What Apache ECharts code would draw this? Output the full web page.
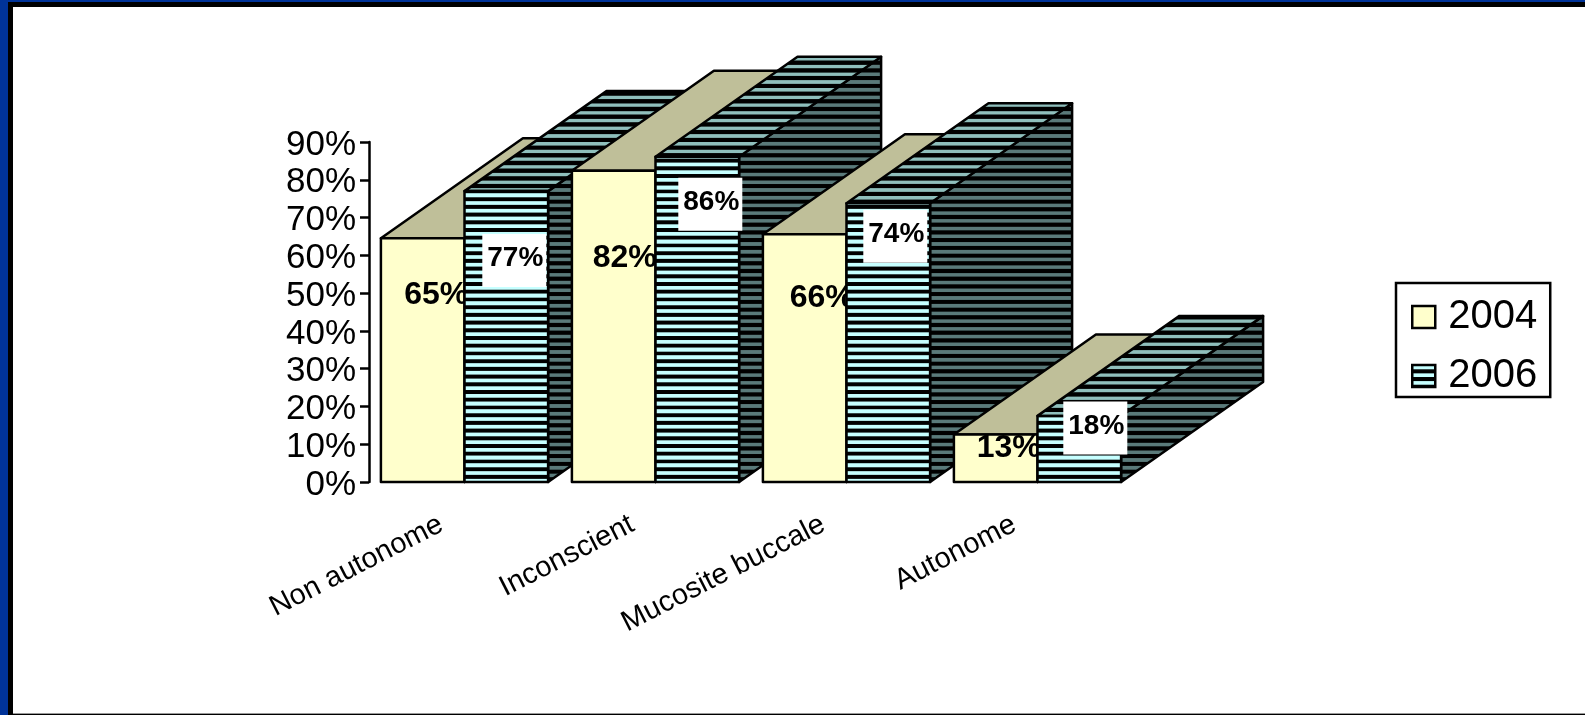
<!DOCTYPE html>
<html>
<head>
<meta charset="utf-8">
<style>html,body{margin:0;padding:0;background:#fff}#c{width:1585px;height:715px}</style>
<script src="https://cdn.jsdelivr.net/npm/echarts@6/dist/echarts.min.js"></script>
</head>
<body>
<div id="c"></div>
<script>
const categories = ['Non autonome', 'Inconscient', 'Mucosite buccale', 'Autonome'];
const seriesNames = ['2004', '2006'];
const values2004 = [64.5, 82.4, 65.6, 12.6];
const values2006 = [77.0, 86.1, 73.8, 17.5];
const yTicks = { min: 0, max: 90, interval: 10 };

const FONT = '"Liberation Sans", Arial, sans-serif';
const DEPTH_X = 142, DEPTH_Y = -100, BAR_RATIO = 83.6 / 191;
// label anchor offsets relative to each bar's top-centre (hand placed in the source chart)
const label2004Offset = [[13.5, 57], [11, 87], [17, 64], [13, 14]];
const label2006Offset = [[8, 69.5], [13, 47.5], [7, 33], [16, 12]];

function stripes(light, shift, band) {
  const period = 54 / 7, cv = document.createElement('canvas');
  cv.width = 8; cv.height = 54;
  const g = cv.getContext('2d');
  g.fillStyle = '#000'; g.fillRect(0, 0, 8, 54);
  g.fillStyle = light;
  for (let k = -1; k < 8; k++) {
    g.fillRect(0, 33.3 + shift - band / 2 + k * period, 8, band);
    g.fillRect(0, 33.3 + shift - band / 2 + k * period - 54, 8, band);
  }
  return { image: cv, repeat: 'repeat' };
}
const hatchFront = stripes('#c6ffff', 0, 3.7);
const hatchTop = stripes('#8fbfbc', 2.4, 3.3);
const hatchSide = stripes('#5a7a7a', 2.4, 3.5);
const FACES = [
  { front: '#ffffcc', top: '#bfbf99', side: '#808066' },
  { front: hatchFront, top: hatchTop, side: hatchSide }
];

function makeRender(sIdx) {
  return function (params, api) {
    const cat = api.value(0), val = api.value(1);
    const base = api.coord([cat, 0]), top = api.coord([cat, val]);
    const w = api.size([1, 0])[0] * BAR_RATIO;
    const x0 = sIdx === 0 ? base[0] - w : base[0], x1 = x0 + w;
    const y0 = base[1], y1 = top[1];
    const f = FACES[sIdx], z = cat * 10 + sIdx * 2;
    const ln = { stroke: '#000', lineWidth: 2.5, lineJoin: 'round' };
    const poly = (pts, fill) => ({ type: 'polygon', z2: z, shape: { points: pts }, style: Object.assign({ fill }, ln) });
    const kids = [
      poly([[x1, y0], [x1 + DEPTH_X, y0 + DEPTH_Y], [x1 + DEPTH_X, y1 + DEPTH_Y], [x1, y1]], f.side),
      poly([[x0, y1], [x1, y1], [x1 + DEPTH_X, y1 + DEPTH_Y], [x0 + DEPTH_X, y1 + DEPTH_Y]], f.top),
      poly([[x0, y0], [x1, y0], [x1, y1], [x0, y1]], f.front)
    ];
    const off = (sIdx === 0 ? label2004Offset : label2006Offset)[cat];
    const lx = (x0 + x1) / 2 + off[0], ly = y1 + off[1];
    if (sIdx === 1) {
      kids.push({ type: 'rect', z2: z + 1, shape: { x: lx - 32, y: ly - 26.5, width: 64, height: 53 }, style: { fill: '#fff' } });
    }
    kids.push({
      type: 'text', z2: sIdx === 0 ? z + 1 : z + 2, x: lx + (sIdx === 1 ? 1 : 0), y: ly - (sIdx === 1 ? 2 : 0),
      style: {
        text: Math.round(val) + '%', fill: '#000', align: 'center', verticalAlign: 'middle',
        font: 'bold ' + (sIdx === 0 ? 32 : 28) + 'px ' + FONT
      }
    });
    return { type: 'group', children: kids };
  };
}

const frameRect = (x, y, width, height, fill) => ({ type: 'rect', silent: true, z: -1, shape: { x, y, width, height }, style: { fill } });

const option = {
  animation: false,
  backgroundColor: '#fff',
  textStyle: { fontFamily: FONT, color: '#000' },
  graphic: [
    frameRect(0, 0, 1585, 2, '#003399'),
    frameRect(0, 0, 8, 715, '#003399'),
    frameRect(8, 2, 1577, 5, '#000'),
    frameRect(8, 2, 5, 713, '#000'),
    frameRect(8, 714, 1577, 1, '#000'),
    frameRect(13, 713, 1572, 1, '#999')
  ],
  grid: { left: 369, top: 142, width: 764, height: 340 },
  xAxis: {
    type: 'category', data: categories,
    axisLine: { show: false }, axisTick: { show: false },
    axisLabel: { interval: 0, rotate: 27, fontSize: 29, color: '#000', margin: 29, padding: [0, 26, 0, 0], fontFamily: FONT }
  },
  yAxis: {
    type: 'value', min: yTicks.min, max: yTicks.max, interval: yTicks.interval,
    splitLine: { show: false },
    axisLine: { show: true, lineStyle: { color: '#000', width: 2.5 } },
    axisTick: { show: true, length: 9, lineStyle: { color: '#000', width: 2.5 } },
    axisLabel: { color: '#000', fontSize: 35, margin: 13, verticalAlign: 'top', lineHeight: 6, fontFamily: FONT, formatter: v => v + '%' }
  },
  legend: {
    orient: 'vertical', left: 1396, top: 283, padding: [14, 13, 1, 15],
    backgroundColor: '#fff', borderColor: '#000', borderWidth: 2.5, borderRadius: 0,
    itemWidth: 23, itemHeight: 22, itemGap: 19, selectedMode: false,
    textStyle: { fontSize: 40, color: '#000', fontFamily: FONT, padding: [0, 0, 0, 8] },
    data: [
      { name: seriesNames[0], icon: 'rect', itemStyle: { color: FACES[0].front, borderColor: '#000', borderWidth: 2.5 } },
      { name: seriesNames[1], icon: 'rect', itemStyle: { color: FACES[1].front, borderColor: '#000', borderWidth: 2.5 } }
    ]
  },
  series: [values2004, values2006].map((vals, s) => ({
    type: 'custom', name: seriesNames[s], clip: false, silent: true,
    renderItem: makeRender(s),
    encode: { x: 0, y: 1 },
    data: vals.map((v, i) => [i, v])
  }))
};
const chart = echarts.init(document.getElementById('c'), null, { renderer: 'canvas' });
chart.setOption(option);
</script>
</body>
</html>
